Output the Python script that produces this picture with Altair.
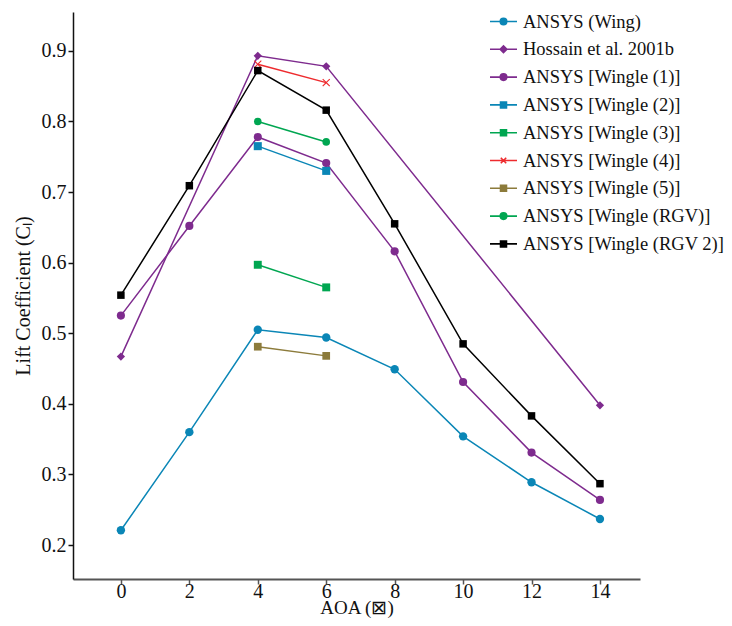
import altair as alt
import pandas as pd

# ---- data ----
aoa_full = [0, 2, 4, 6, 8, 10, 12, 14]
wing_cl = [0.221, 0.360, 0.505, 0.494, 0.449, 0.354, 0.289, 0.237]
wingle1_cl = [0.525, 0.652, 0.778, 0.741, 0.616, 0.431, 0.331, 0.264]
rgv2_cl = [0.554, 0.709, 0.872, 0.816, 0.655, 0.485, 0.383, 0.287]
hossain_aoa = [0, 4, 6, 14]
hossain_cl = [0.467, 0.893, 0.878, 0.398]
aoa_short = [4, 6]
wingle2_cl = [0.765, 0.730]
wingle3_cl = [0.597, 0.565]
wingle4_cl = [0.881, 0.855]
wingle5_cl = [0.481, 0.468]
rgv_cl = [0.800, 0.771]

series_names = [
    "ANSYS (Wing)",
    "Hossain et al. 2001b",
    "ANSYS [Wingle (1)]",
    "ANSYS [Wingle (2)]",
    "ANSYS [Wingle (3)]",
    "ANSYS [Wingle (4)]",
    "ANSYS [Wingle (5)]",
    "ANSYS [Wingle (RGV)]",
    "ANSYS [Wingle (RGV 2)]",
]
series_x = [aoa_full, hossain_aoa, aoa_full, aoa_short, aoa_short, aoa_short,
            aoa_short, aoa_short, aoa_full]
series_y = [wing_cl, hossain_cl, wingle1_cl, wingle2_cl, wingle3_cl, wingle4_cl,
            wingle5_cl, rgv_cl, rgv2_cl]

BLUE = "#0a86b6"
PURPLE = "#7e2b8e"
GREEN = "#00a651"
RED = "#ee2b2e"
OLIVE = "#8c7b3b"
BLACK = "#000000"
series_colors = [BLUE, PURPLE, PURPLE, BLUE, GREEN, RED, OLIVE, GREEN, BLACK]

X_PATH = ("M-1,-0.8L-0.8,-1L0,-0.2L0.8,-1L1,-0.8L0.2,0L1,0.8L0.8,1L0,0.2"
          "L-0.8,1L-1,0.8L-0.2,0Z")
marker_shapes = ["circle", "diamond", "circle", "square", "square", X_PATH,
                 "square", "circle", "square"]
marker_sizes = [70, 56, 70, 60, 60, 50, 60, 70, 60]

# legend symbols: a short line with the marker on it (path in [-1,1] box)
LINE = "M-1,0H1"
L_CIRC = "M-0.24,0A0.24,0.24 0 1,0 0.24,0A0.24,0.24 0 1,0 -0.24,0Z"
L_SQ = "M-0.22,-0.22H0.22V0.22H-0.22Z"
L_DIA = "M-0.25,0L0,-0.25L0.25,0L0,0.25Z"
L_X = "M-0.2,-0.2L0.2,0.2M-0.2,0.2L0.2,-0.2"
legend_shapes = [LINE + L_CIRC, LINE + L_DIA, LINE + L_CIRC, LINE + L_SQ,
                 LINE + L_SQ, LINE + L_X, LINE + L_SQ, LINE + L_CIRC, LINE + L_SQ]

rows = []
for name, xs, ys in zip(series_names, series_x, series_y):
    for xv, yv in zip(xs, ys):
        rows.append({"series": name, "legend": name, "aoa": xv, "cl": yv})
df = pd.DataFrame(rows)

FONT = "Liberation Serif"

x_enc = alt.X(
    "aoa:Q",
    scale=alt.Scale(domain=[-1.4, 15.17], nice=False, zero=False),
    axis=alt.Axis(
        values=aoa_full, title="AOA (⊠)", grid=False, tickSize=5,
        labelFontSize=20, titleFontSize=19, labelPadding=-3, titlePadding=-3,
        domainColor="#555555", domainWidth=2, tickColor="#555555", tickWidth=1.5,
        labelFont=FONT, titleFont=FONT, titleFontWeight="normal",
        labelColor="#111111", titleColor="#111111",
    ),
)
y_enc = alt.Y(
    "cl:Q",
    scale=alt.Scale(domain=[0.152, 0.955], nice=False, zero=False),
    axis=alt.Axis(
        values=[0.2, 0.3, 0.4, 0.5, 0.6, 0.7, 0.8, 0.9], format=".1f",
        title="Lift Coefficient (Cₗ)", grid=False, tickSize=5,
        labelFontSize=20, titleFontSize=20, labelPadding=2, titlePadding=8,
        domainColor="#111111", domainWidth=1.5, tickColor="#111111", tickWidth=1.5,
        labelFont=FONT, titleFont=FONT, titleFontWeight="normal",
        labelColor="#111111", titleColor="#111111",
    ),
)

color_scale = alt.Scale(domain=series_names, range=series_colors)

lines = alt.Chart(df).mark_line(strokeWidth=1.5).encode(
    x=x_enc, y=y_enc,
    color=alt.Color("series:N", scale=color_scale, legend=None),
    order="aoa:Q",
)

points = alt.Chart(df).mark_point(filled=True, opacity=1).encode(
    x="aoa:Q", y="cl:Q",
    color=alt.Color("series:N", scale=color_scale, legend=None),
    shape=alt.Shape("series:N", scale=alt.Scale(domain=series_names, range=marker_shapes), legend=None),
    size=alt.Size("series:N", scale=alt.Scale(domain=series_names, range=marker_sizes), legend=None),
)

sym_color = alt.ExprRef(expr="scale('color', datum.value)")
leg = alt.Legend(
    title=None, orient="none", legendX=416, legendY=-5, padding=0,
    symbolSize=729, symbolStrokeWidth=1.6, symbolOpacity=1,
    symbolFillColor=sym_color, symbolStrokeColor=sym_color,
    labelFont=FONT, labelFontSize=18.5,
    labelColor="#111111", labelOffset=5, rowPadding=3.8, labelLimit=400,
)
legend_layer = alt.Chart(df).mark_point(opacity=0, filled=False).encode(
    x="aoa:Q", y="cl:Q",
    shape=alt.Shape("legend:N", scale=alt.Scale(domain=series_names, range=legend_shapes), legend=leg),
    fill=alt.Fill("legend:N", scale=alt.Scale(domain=series_names, range=series_colors), legend=None),
    stroke=alt.Stroke("legend:N", scale=alt.Scale(domain=series_names, range=series_colors), legend=None),
)

chart = alt.layer(lines, points, legend_layer).resolve_scale(
    shape="independent"
).resolve_legend(
    shape="independent"
).properties(
    width=567, height=567,
    autosize=alt.AutoSizeParams(type="none"),
    padding={"left": 65, "top": 4, "right": 84, "bottom": 39},
).configure_view(stroke=None)

chart.save("out.html", embed_options={"renderer": "svg", "actions": False})
